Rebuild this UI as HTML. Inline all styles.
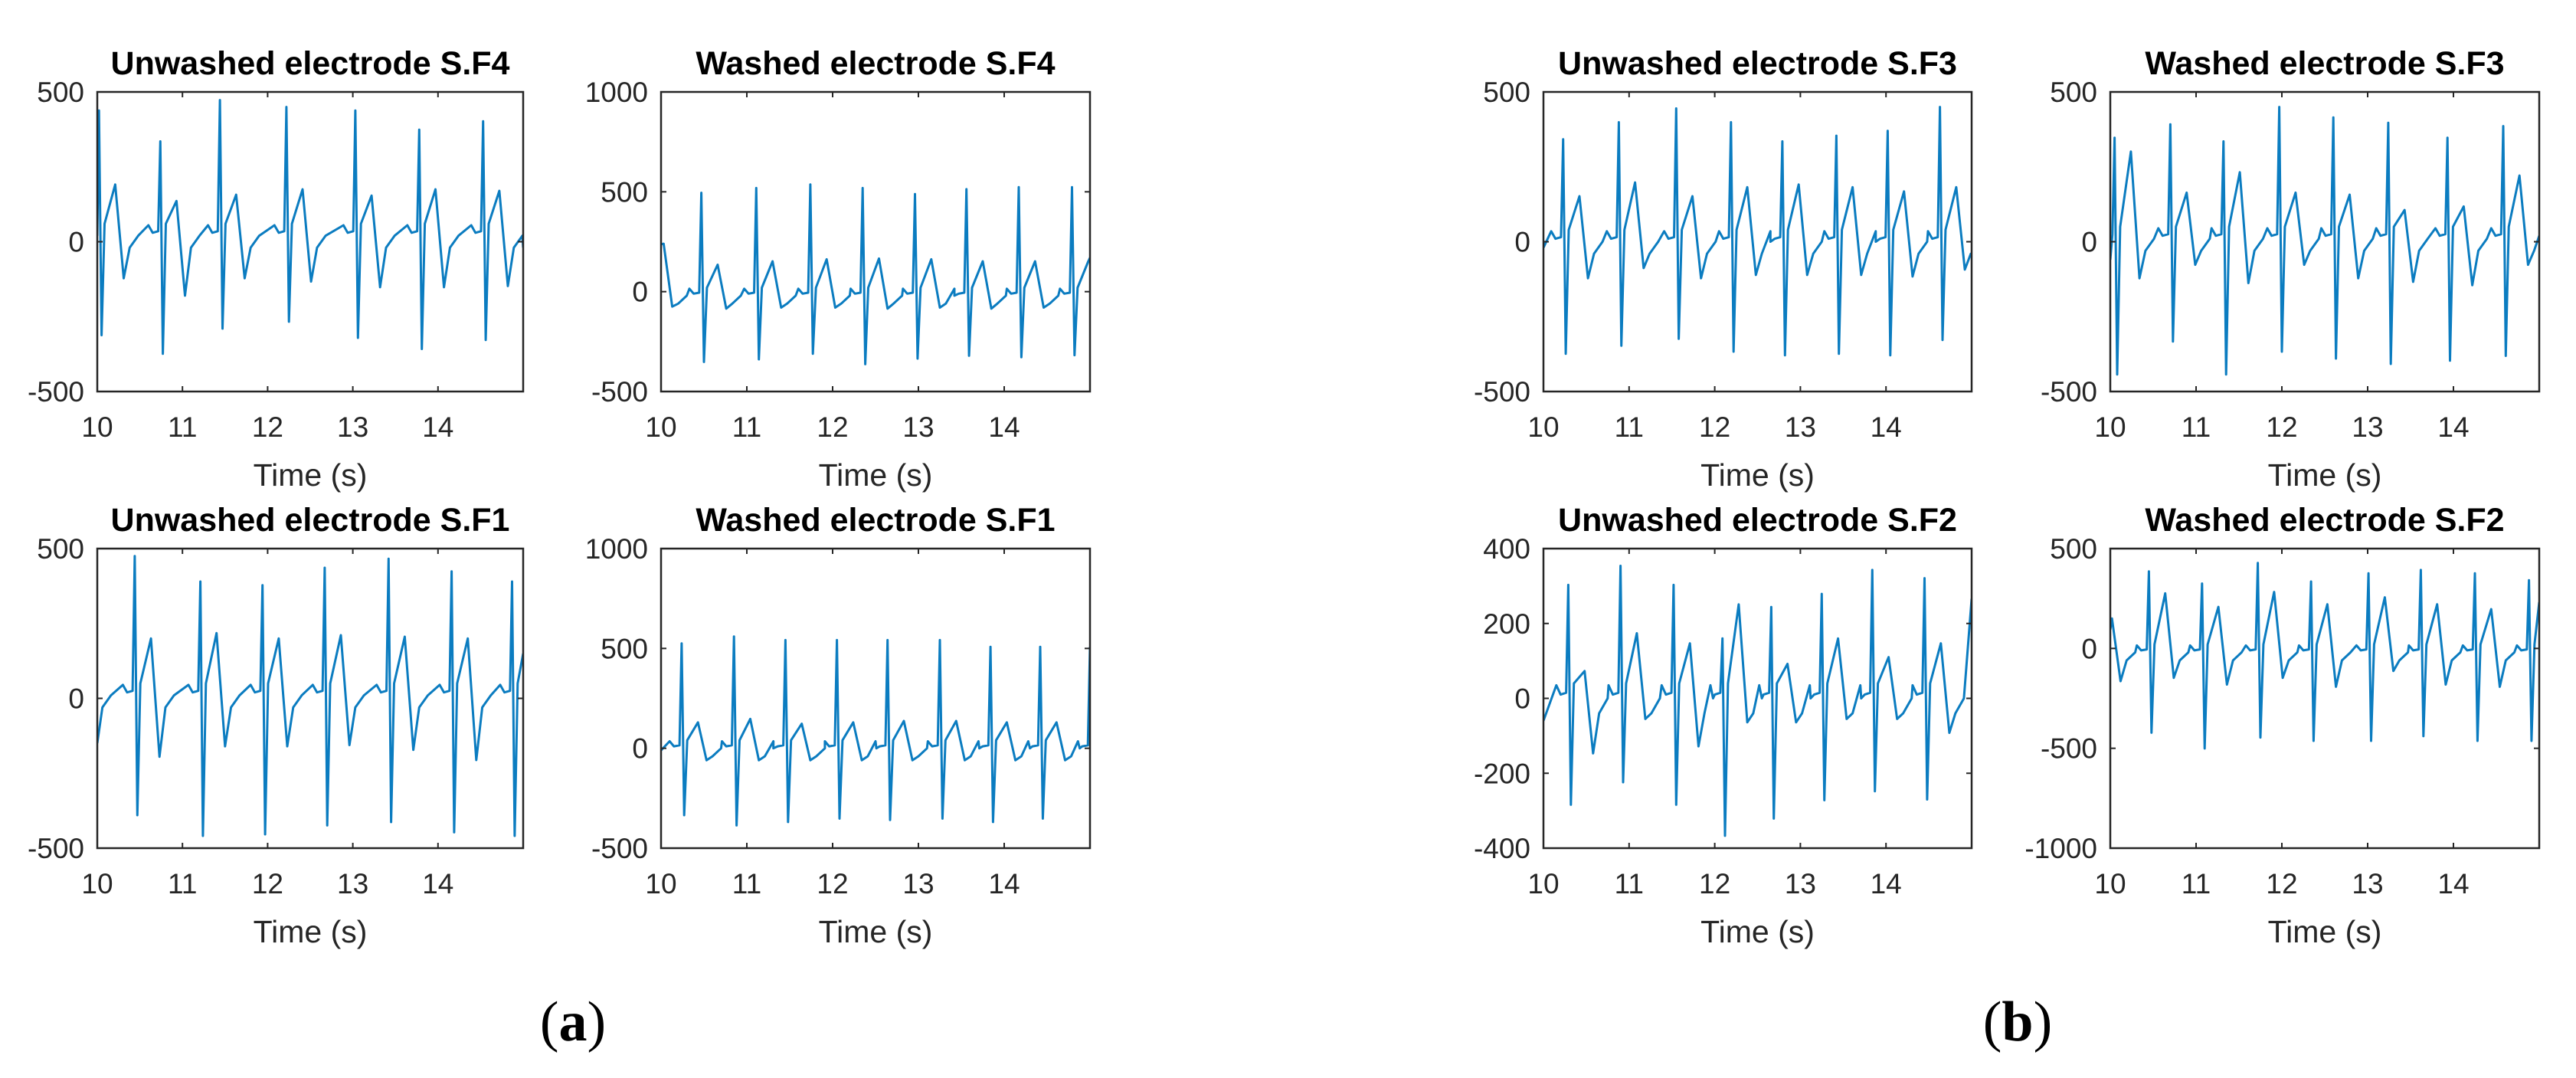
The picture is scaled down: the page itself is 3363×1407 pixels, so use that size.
<!DOCTYPE html>
<html><head><meta charset="utf-8">
<style>
html,body{margin:0;padding:0;background:#fff;}
svg{display:block;}
.ttl{font-family:"Liberation Sans",Arial,sans-serif;font-weight:bold;font-size:43px;fill:#000;text-anchor:middle;}
.tk{font-family:"Liberation Sans",Arial,sans-serif;font-size:37px;fill:#262626;}
.xl{font-family:"Liberation Sans",Arial,sans-serif;font-size:41px;fill:#262626;text-anchor:middle;}
.lab{font-family:"Liberation Serif","Times New Roman",serif;font-size:74px;fill:#000;text-anchor:middle;}
</style></head>
<body>
<svg id="fig" width="3363" height="1407" viewBox="0 0 3363 1407" xmlns="http://www.w3.org/2000/svg">
<text class="lab" x="748" y="1358">(<tspan font-weight="bold">a</tspan>)</text>
<text class="lab" x="2634" y="1358">(<tspan font-weight="bold">b</tspan>)</text>
</svg>
<script>
// ---- data (R-peak times, R, S, T, post-T trough amplitudes) ----
const titles = ["Unwashed electrode S.F4","Washed electrode S.F4","Unwashed electrode S.F1","Washed electrode S.F1","Unwashed electrode S.F3","Washed electrode S.F3","Unwashed electrode S.F2","Washed electrode S.F2"];
const yMins = [-500,-500,-500,-500,-500,-500,-400,-1000];
const yMaxs = [500,1000,500,1000,500,500,400,500];
const yTickSets = [[-500,0,500],[-500,0,500,1000],[-500,0,500],[-500,0,500,1000],[-500,0,500],[-500,0,500],[-400,-200,0,200,400],[-1000,-500,0,500]];
const xTicks = [10,11,12,13,14];
const baseVals = [20,-20,10,0,0,10,0,-20];
const startVals = [20,238,-150,-10,-20,-60,-60,94];
const endVals = [-20,170,150,508,-40,20,266,232];

const rT0=[10.02,10.74,11.44,12.22,13.03,13.78,14.53];
const rV0=[438,335,473,450,438,374,402];
const sV0=[-312,-374,-290,-267,-321,-358,-328];
const tV0=[191,136,157,175,154,175,170];
const uV0=[-122,-180,-122,-133,-152,-152,-148];

const rT1=[9.84,10.47,11.11,11.74,12.35,12.96,13.56,14.17,14.79];
const rV1=[495,495,519,537,519,489,513,523,523];
const sV1=[-352,-352,-339,-311,-363,-335,-321,-328,-318];
const tV1=[240,135,152,162,166,162,152,152,152];
const uV1=[-75,-85,-80,-80,-85,-80,-85,-80,-80];

const rT2=[9.70,10.44,11.21,11.94,12.67,13.42,14.16,14.87];
const rV2=[400,475,390,378,436,466,424,390];
const sV2=[-400,-390,-459,-454,-424,-413,-447,-459];
const tV2=[200,200,218,200,211,206,200,150];
const uV2=[-150,-195,-160,-160,-156,-172,-206,-100];

const rT3=[10.24,10.85,11.45,12.05,12.64,13.25,13.84,14.42,15.0];
const rV3=[525,560,542,542,542,542,508,508,508];
const sV3=[-335,-386,-369,-352,-359,-352,-369,-352,-300];
const tV3=[130,147,123,130,137,137,130,130,130];
const uV3=[-60,-60,-60,-60,-60,-60,-60,-60,-60];

const rT4=[10.23,10.88,11.55,12.19,12.79,13.42,14.02,14.63];
const rV4=[342,399,445,399,335,354,370,450];
const sV4=[-374,-347,-324,-367,-379,-374,-379,-328];
const tV4=[152,198,152,182,191,182,168,182];
const uV4=[-122,-88,-122,-111,-111,-111,-116,-93];

const rT5=[10.05,10.70,11.32,11.97,12.60,13.24,13.93,14.58];
const rV5=[347,392,335,450,415,397,347,386];
const sV5=[-443,-333,-443,-367,-390,-408,-397,-381];
const tV5=[301,164,232,164,157,106,118,221];
const uV5=[-122,-77,-138,-77,-122,-134,-145,-77];

const rT6=[10.29,10.90,11.52,12.09,12.66,13.25,13.84,14.45];
const rV6=[303,354,303,160,244,279,343,321];
const sV6=[-284,-224,-284,-367,-321,-272,-248,-270];
const tV6=[73,174,147,251,92,160,110,147];
const uV6=[-147,-55,-128,-64,-64,-55,-55,-92];

const rT7=[9.83,10.45,11.07,11.72,12.34,13.01,13.62,14.25,14.88];
const rV7=[386,386,325,428,335,376,393,376,342];
const sV7=[-422,-422,-501,-446,-463,-463,-439,-463,-463];
const tV7=[150,276,208,283,221,256,221,197,232];
const uV7=[-164,-147,-181,-147,-192,-113,-181,-192,-150];

const rTs=[rT0,rT1,rT2,rT3,rT4,rT5,rT6,rT7];
const rVs=[rV0,rV1,rV2,rV3,rV4,rV5,rV6,rV7];
const sVs=[sV0,sV1,sV2,sV3,sV4,sV5,sV6,sV7];
const tVs=[tV0,tV1,tV2,tV3,tV4,tV5,tV6,tV7];
const uVs=[uV0,uV1,uV2,uV3,uV4,uV5,uV6,uV7];

// ---- layout ----
const colLeft=[127,863,2015,2755];
const colW=[556,560,559,560];
const rowTop=[120,716];
const axH=391;
const NS="http://www.w3.org/2000/svg";
const svg=document.getElementById('fig');
function mk(tag,attrs,parent){const e=document.createElementNS(NS,tag);for(const k in attrs)e.setAttribute(k,attrs[k]);(parent||svg).appendChild(e);return e;}

const panelCol=[0,1,0,1,2,3,2,3];
const panelRow=[0,0,1,1,0,0,1,1];
for(let p=0;p<8;p++){
  const L=colLeft[panelCol[p]], W=colW[panelCol[p]], T=rowTop[panelRow[p]], B=T+axH;
  const y0=yMins[p], y1=yMaxs[p];
  const sx=t=>L+(t-10)/5*W;
  const sy=v=>B-(v-y0)/(y1-y0)*axH;
  const g=mk('g',{});
  
  
  const tt=mk('text',{x:L+W/2,y:T-23,class:'ttl'},g);
  
  
  tt.textContent=titles[p];
  const pts=[[10,startVals[p]]];
  const base=baseVals[p];
  const rt=rTs[p];
  for(let i=0;i<rt.length;i++){
    const tR=rt[i];
    const cand=[[tR-0.14,base+35],[tR-0.09,base+10],[tR-0.025,base+15],[tR,rVs[p][i]],[tR+0.03,sVs[p][i]],[tR+0.065,base+40],[tR+0.19,tVs[p][i]],[tR+0.29,uVs[p][i]],[tR+0.36,base-40],[tR+0.46,base]];
    for(const c of cand){ if(c[0]>10 && c[0]<15) pts.push(c); }
  }
  pts.push([15,endVals[p]]);
  pts.sort((a,b)=>a[0]-b[0]);
  const d=pts.map((q,i)=>(i?'L':'M')+sx(q[0]).toFixed(1)+' '+sy(q[1]).toFixed(1)).join(' ');
  const clipId='clip'+p;
  const cp=mk('clipPath',{id:clipId},g);
  mk('rect',{x:L,y:T,width:W,height:axH},cp);
  const path=mk('path',{d:d,fill:'none',stroke:'#0b7cc0','stroke-width':3,'stroke-linejoin':'round','clip-path':'url(#'+clipId+')'},g);
  
  
  const box=mk('rect',{x:L,y:T,width:W,height:axH,fill:'none',stroke:'#262626','stroke-width':2.5},g);
  
  
  for(const xv of xTicks){
    const X=sx(xv);
    mk('line',{x1:X,y1:B,x2:X,y2:B-7,stroke:'#262626','stroke-width':2},g);
    mk('line',{x1:X,y1:T,x2:X,y2:T+7,stroke:'#262626','stroke-width':2},g);
    const tl=mk('text',{x:X,y:B+59,class:'tk','text-anchor':'middle'},g);
    
    
    tl.textContent=xv;
  }
  for(const yv of yTickSets[p]){
    const Y=sy(yv);
    mk('line',{x1:L,y1:Y,x2:L+7,y2:Y,stroke:'#262626','stroke-width':2},g);
    mk('line',{x1:L+W,y1:Y,x2:L+W-7,y2:Y,stroke:'#262626','stroke-width':2},g);
    const yl=mk('text',{x:L-17,y:Y+13,class:'tk','text-anchor':'end'},g);
    
    
    yl.textContent=yv;
  }
  const xl=mk('text',{x:L+W/2,y:B+123,class:'xl'},g);
  
  
  xl.textContent='Time (s)';
}
</script>
</body></html>
